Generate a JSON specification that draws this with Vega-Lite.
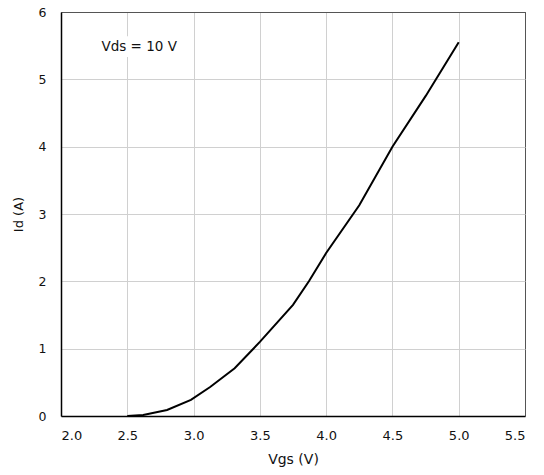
{
  "$schema": "https://vega.github.io/schema/vega-lite/v6.json",
  "width": 464,
  "height": 404,
  "autosize": {"type": "none"},
  "padding": {"left": 61, "top": 12, "right": 19, "bottom": 59},
  "background": "white",
  "config": {
    "view": {"stroke": "#555", "strokeWidth": 1},
    "font": "DejaVu Sans",
    "axis": {
      "labelFont": "DejaVu Sans",
      "titleFont": "DejaVu Sans",
      "labelColor": "#111",
      "titleColor": "#111",
      "titleFontWeight": "normal",
      "gridWidth": 1,
      "domainColor": "#000",
      "domainWidth": 1.5,
      "ticks": false
    }
  },
  "datasets": {
    "curve": [
      {"vgs": 2.5, "id": 0.0},
      {"vgs": 2.62, "id": 0.015},
      {"vgs": 2.8, "id": 0.09},
      {"vgs": 2.98, "id": 0.24},
      {"vgs": 3.125, "id": 0.43},
      {"vgs": 3.31, "id": 0.71},
      {"vgs": 3.5, "id": 1.1},
      {"vgs": 3.75, "id": 1.65},
      {"vgs": 3.87, "id": 2.0},
      {"vgs": 4.0, "id": 2.42},
      {"vgs": 4.25, "id": 3.13},
      {"vgs": 4.5, "id": 4.0},
      {"vgs": 4.75, "id": 4.75},
      {"vgs": 5.0, "id": 5.55}
    ],
    "note": [
      {"vgs": 2.305, "id": 5.48, "label": "Vds = 10 V", "x1": 2.27, "x2": 2.9, "y1": 5.33, "y2": 5.64}
    ]
  },
  "layer": [
    {
      "data": {"name": "curve"},
      "mark": {"type": "line", "color": "#000", "strokeWidth": 2},
      "encoding": {
        "x": {
          "field": "vgs", "type": "quantitative",
          "scale": {"domain": [2.0, 5.5], "nice": false, "zero": false},
          "axis": {
            "values": [2.0, 2.5, 3.0, 3.5, 4.0, 4.5, 5.0, 5.5], "format": ".1f", "title": "Vgs (V)",
            "labelFontSize": 13, "titleFontSize": 14, "labelPadding": 13, "titlePadding": 10,
            "gridColor": {"condition": {"test": "datum.value >= 5.5", "value": "#555"}, "value": "#d0d0d0"}
          }
        },
        "y": {
          "field": "id", "type": "quantitative",
          "scale": {"domain": [0, 6], "nice": false},
          "axis": {
            "values": [0, 1, 2, 3, 4, 5, 6], "format": "d", "title": "Id (A)",
            "labelFontSize": 12.5, "titleFontSize": 13, "labelPadding": 15, "titlePadding": 13,
            "gridColor": {"condition": {"test": "datum.value >= 6", "value": "#555"}, "value": "#d0d0d0"}
          }
        }
      }
    },
    {
      "data": {"name": "note"},
      "mark": {"type": "rect", "color": "white"},
      "encoding": {
        "x": {"field": "x1", "type": "quantitative"},
        "x2": {"field": "x2"},
        "y": {"field": "y1", "type": "quantitative"},
        "y2": {"field": "y2"}
      }
    },
    {
      "data": {"name": "note"},
      "mark": {"type": "text", "align": "left", "baseline": "middle", "fontSize": 13.5, "font": "DejaVu Sans", "color": "#111"},
      "encoding": {
        "x": {"field": "vgs", "type": "quantitative"},
        "y": {"field": "id", "type": "quantitative"},
        "text": {"field": "label"}
      }
    }
  ]
}
